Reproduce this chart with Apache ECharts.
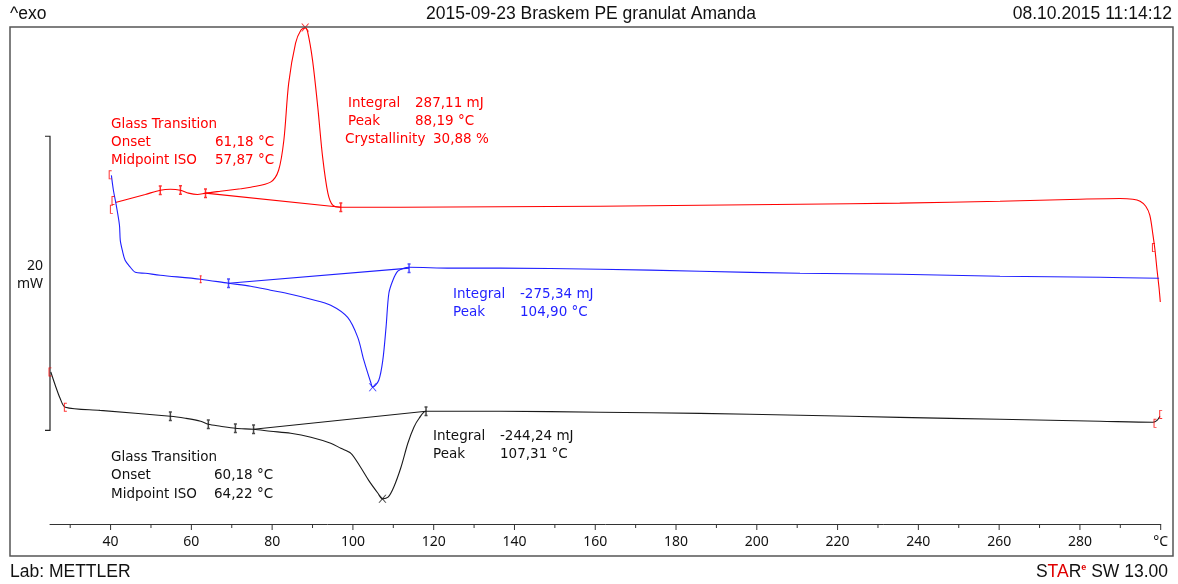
<!DOCTYPE html>
<html>
<head>
<meta charset="utf-8">
<script src="https://cdn.jsdelivr.net/npm/echarts@6/dist/echarts.min.js"></script>
<style>
  html, body { margin: 0; padding: 0; background: #fff; }
  #chart { width: 1178px; height: 584px; }
</style>
</head>
<body>
<div id="chart"></div>
<script>
// DSC run: heat flow (mW, stacked with offsets) against temperature (°C)
const tempMin = 25;
const tempMax = 300;
const heatFlowMax = 33.8;

// Red trace: cold crystallisation peak
const redCurve = [
  [41.2, 21.87], [44.9, 22.14], [48.6, 22.41], [52.3, 22.70], [54.8, 22.77],
  [57.3, 22.70], [59.3, 22.50], [61.5, 22.41], [63.5, 22.50], [67.2, 22.63],
  [72.2, 22.80], [74.7, 22.90], [79.6, 23.25], [81.6, 24.06], [82.9, 26.10],
  [84.1, 29.98], [85.8, 32.70], [87.1, 33.58], [88.19, 33.76], [88.8, 33.45],
  [90.0, 31.55], [91.3, 28.35], [92.5, 24.95], [93.8, 22.50], [95.0, 21.68],
  [97.0, 21.54], [111.9, 21.54], [136.5, 21.58], [161.2, 21.61], [185.9, 21.68],
  [210.7, 21.75], [235.4, 21.82], [260.2, 21.95], [280.0, 22.09], [289.9, 22.14],
  [293.1, 22.09], [294.9, 21.95], [296.3, 21.61], [297.3, 21.00], [298.1, 19.63],
  [298.6, 18.60], [299.1, 17.26], [299.6, 16.03], [299.9, 15.10]
];
const redBaseline = [[63.5, 22.50], [97.0, 21.54]];

// Blue trace: melting peak
const blueCurve = [
  [40.2, 23.71], [40.7, 22.70], [41.4, 21.68], [42.2, 20.32], [42.4, 19.29],
  [42.9, 18.62], [43.6, 17.94], [44.9, 17.46], [46.1, 17.12], [48.6, 17.05],
  [52.3, 16.92], [62.3, 16.65], [69.2, 16.37], [74.7, 16.17], [79.6, 15.90],
  [84.6, 15.63], [89.6, 15.29], [94.5, 14.88], [98.7, 14.05], [101.2, 12.69],
  [102.7, 11.14], [104.4, 9.64], [104.90, 9.30], [106.4, 9.78], [107.4, 11.14],
  [108.2, 13.37], [108.9, 15.69], [109.9, 16.58], [111.1, 17.19], [112.6, 17.40],
  [113.9, 17.46], [124.3, 17.40], [136.5, 17.40], [161.2, 17.33], [185.9, 17.19],
  [210.7, 17.05], [235.4, 16.99], [260.2, 16.85], [285.0, 16.78], [299.6, 16.71]
];
const blueBaseline = [[69.2, 16.37], [113.9, 17.40]];

// Black trace: second melting peak
const blackCurve = [
  [25.2, 10.34], [26.3, 9.44], [27.5, 8.55], [28.8, 7.94], [37.4, 7.73],
  [54.8, 7.33], [58.5, 7.19], [62.3, 6.99], [64.2, 6.78], [67.2, 6.65],
  [70.9, 6.51], [75.4, 6.44], [79.6, 6.31], [84.6, 6.17], [89.6, 5.90],
  [94.5, 5.49], [97.0, 5.15], [99.5, 4.81], [101.9, 3.86], [103.9, 2.97],
  [106.2, 2.09], [107.31, 1.71], [108.7, 1.82], [110.1, 2.50], [111.9, 3.86],
  [113.6, 5.49], [115.1, 6.58], [116.4, 7.19], [118.1, 7.67], [136.5, 7.67],
  [161.2, 7.60], [185.9, 7.52], [210.7, 7.40], [235.4, 7.25], [260.2, 7.12],
  [285.0, 6.99], [298.1, 6.92], [299.1, 7.05], [299.8, 7.33]
];
const blackBaseline = [[75.4, 6.44], [118.1, 7.67]];

// Evaluation results
const redPeak = 88.19;
const bluePeak = 104.90;
const blackPeak = 107.31;
const redResults = ['287,11 mJ', '88,19 °C', '30,88 %'];
const redGlass = ['61,18 °C', '57,87 °C'];
const blueResults = ['-275,34 mJ', '104,90 °C'];
const blackResults = ['-244,24 mJ', '107,31 °C'];
const blackGlass = ['60,18 °C', '64,22 °C'];

// Evaluation limit marks on each trace
const redLimits = [[52.3, 22.70], [57.3, 22.72], [63.5, 22.50], [97.0, 21.54]];
const blueLimits = [[62.3, 16.65], [69.2, 16.37], [113.9, 17.40]];
const blackLimits = [[54.8, 7.33], [64.2, 6.78], [70.9, 6.51], [75.4, 6.44], [118.1, 7.67]];
// Range brackets at trace ends
const bracketMarks = [[40.6, 22.0], [40.2, 21.4], [39.9, 23.75], [25.0, 10.34],
  [28.8, 7.94], [298.2, 18.8], [300.1, 14.9], [298.6, 6.85], [300.0, 7.45]];

// Temperature axis
const tickValues = [30, 40, 50, 60, 70, 80, 90, 100, 110, 120, 130, 140, 150, 160, 170,
  180, 190, 200, 210, 220, 230, 240, 250, 260, 270, 280, 290, 300];
const tickLabels = { 40: '40', 60: '60', 80: '80', 100: '100', 120: '120', 140: '140',
  160: '160', 180: '180', 200: '200', 220: '220', 240: '240', 260: '260', 280: '280', 300: '°C' };

// 20 mW scale bar
const scaleBar = [6.37, 26.37];

const AXIS_FONT = '14px "Noto Sans", "DejaVu Sans", sans-serif';
const NOTE_FONT = '13.5px "DejaVu Sans"';
const HEAD_FONT = '17.5px "Liberation Sans", Arial, sans-serif';

function lineSeries(data, color, smooth) {
  return {
    type: 'line', data: data, showSymbol: false, silent: true, animation: false,
    smooth: smooth ? 0.3 : false,
    lineStyle: { color: color, width: 1.1 }, z: 3
  };
}
function markSeries(data, color, symbol, size) {
  return {
    type: 'scatter', data: data, symbol: symbol, symbolSize: size, silent: true,
    animation: false, itemStyle: { color: color }, z: 4
  };
}

const X_PATH = 'path://M0,0L1.5,0L5,3.8L8.5,0L10,0L5.8,4.6L10,9.5L8.5,9.5L5,5.4L1.5,9.5L0,9.5L4.2,4.6Z';
const LIMIT_PATH = 'path://M1,0h2v1.5h-0.5v7h0.5v1.5h-2v-1.5h0.5v-7h-0.5z';
const BRACKET_PATH = 'path://M0,0h3v1h-2v8h2v1h-3z';

function note(text, x, y, color) {
  return { type: 'text', x: x, y: y, style: { text: text, fill: color, font: NOTE_FONT, verticalAlign: 'middle' }, z: 10 };
}

const chart = echarts.init(document.getElementById('chart'), null, { renderer: 'canvas' });

chart.setOption({
  animation: false,
  backgroundColor: '#fff',
  grid: { left: 50, right: 17.3, top: 27, bottom: 60 },
  xAxis: {
    type: 'value', min: tempMin, max: tempMax,
    axisLine: { show: true, lineStyle: { color: '#333', width: 1 } },
    axisTick: { show: false }, axisLabel: { show: false }, splitLine: { show: false }
  },
  yAxis: { type: 'value', min: 0, max: heatFlowMax, show: false },
  series: [
    // axis ticks and labels
    {
      type: 'custom', silent: true, data: tickValues.map(v => [v, 0]),
      renderItem: function (params, api) {
        const v = api.value(0);
        const p = api.coord([v, 0]);
        const major = v % 20 === 0;
        const children = [{
          type: 'line',
          shape: { x1: p[0], y1: p[1], x2: p[0], y2: p[1] + (major ? 6 : 4) },
          style: { stroke: '#333', lineWidth: 1 }
        }];
        if (tickLabels[v]) {
          children.push({
            type: 'text',
            style: { text: tickLabels[v], x: p[0], y: p[1] + 18, align: 'center', verticalAlign: 'middle', fill: '#111', font: AXIS_FONT }
          });
        }
        return { type: 'group', children: children };
      }
    },
    // scale bar
    {
      type: 'custom', silent: true, data: [[tempMin, scaleBar[0], scaleBar[1]]],
      renderItem: function (params, api) {
        const lo = api.coord([api.value(0), api.value(1)]);
        const hi = api.coord([api.value(0), api.value(2)]);
        const mid = (lo[1] + hi[1]) / 2;
        const span = Math.round(api.value(2) - api.value(1));
        return {
          type: 'group', children: [
            { type: 'polyline', shape: { points: [[lo[0] - 5, hi[1]], [lo[0], hi[1]], [lo[0], lo[1]], [lo[0] - 5, lo[1]]] },
              style: { stroke: '#222', lineWidth: 1.2, fill: null } },
            { type: 'text', style: { text: String(span), x: lo[0] - 7, y: mid - 17, align: 'right', verticalAlign: 'middle', fill: '#111', font: AXIS_FONT } },
            { type: 'text', style: { text: 'mW', x: lo[0] - 7, y: mid + 1, align: 'right', verticalAlign: 'middle', fill: '#111', font: AXIS_FONT } }
          ]
        };
      }
    },
    lineSeries(redCurve, '#ff0000', true),
    lineSeries(redBaseline, '#ff0000', false),
    lineSeries(blueCurve, '#1f1fff', true),
    lineSeries(blueBaseline, '#1f1fff', false),
    lineSeries(blackCurve, '#1a1a1a', true),
    lineSeries(blackBaseline, '#1a1a1a', false),
    markSeries([[redPeak, 33.76]], '#ff0000', X_PATH, 8),
    markSeries([[bluePeak, 9.30]], '#1f1fff', X_PATH, 8),
    markSeries([[blackPeak, 1.71]], '#1a1a1a', X_PATH, 8),
    markSeries(redLimits, '#ff0000', LIMIT_PATH, [3, 10]),
    markSeries(blueLimits.slice(1), '#1f1fff', LIMIT_PATH, [3, 10]),
    markSeries(blueLimits.slice(0, 1), '#ff0000', LIMIT_PATH, [2, 8]),
    markSeries(blackLimits, '#1a1a1a', LIMIT_PATH, [3, 10]),
    markSeries(bracketMarks, '#ff0000', BRACKET_PATH, [3, 9])
  ],
  graphic: [
    { type: 'rect', shape: { x: 10, y: 27, width: 1163, height: 529 }, style: { fill: null, stroke: '#555', lineWidth: 1.5 }, z: 20 },
    { type: 'text', x: 10, y: 14, style: { text: '^exo', font: HEAD_FONT, fill: '#111', verticalAlign: 'middle' } },
    { type: 'text', x: 591, y: 14, style: { text: '2015-09-23 Braskem PE granulat Amanda', font: HEAD_FONT, fill: '#111', align: 'center', verticalAlign: 'middle' } },
    { type: 'text', x: 1172, y: 14, style: { text: '08.10.2015 11:14:12', font: HEAD_FONT, fill: '#111', align: 'right', verticalAlign: 'middle' } },
    { type: 'text', x: 10, y: 572, style: { text: 'Lab: METTLER', font: HEAD_FONT, fill: '#111', verticalAlign: 'middle' } },
    { type: 'text', x: 1168, y: 572, style: {
        text: '{k|S}{r|TA}{k|R}{s|e}{k| SW 13.00}', align: 'right', verticalAlign: 'middle',
        rich: {
          k: { font: HEAD_FONT, fill: '#111' },
          r: { font: HEAD_FONT, fill: '#e00000' },
          s: { font: 'bold 9px "Liberation Sans", Arial, sans-serif', fill: '#e00000', verticalAlign: 'top', padding: [0, 0, 8, 0] }
        } } },

    // red evaluation
    note('Glass Transition', 111, 124, '#ff0000'),
    note('Onset', 111, 142, '#ff0000'),
    note(redGlass[0], 215, 142, '#ff0000'),
    note('Midpoint ISO', 111, 160, '#ff0000'),
    note(redGlass[1], 215, 160, '#ff0000'),
    note('Integral', 348, 103, '#ff0000'),
    note(redResults[0], 415, 103, '#ff0000'),
    note('Peak', 348, 121, '#ff0000'),
    note(redResults[1], 415, 121, '#ff0000'),
    note('Crystallinity', 345, 139, '#ff0000'),
    note(redResults[2], 433, 139, '#ff0000'),

    // blue evaluation
    note('Integral', 453, 294, '#1f1fff'),
    note(blueResults[0], 520, 294, '#1f1fff'),
    note('Peak', 453, 312, '#1f1fff'),
    note(blueResults[1], 520, 312, '#1f1fff'),

    // black evaluation
    note('Glass Transition', 111, 457, '#111'),
    note('Onset', 111, 475, '#111'),
    note(blackGlass[0], 214, 475, '#111'),
    note('Midpoint ISO', 111, 494, '#111'),
    note(blackGlass[1], 214, 494, '#111'),
    note('Integral', 433, 436, '#111'),
    note(blackResults[0], 500, 436, '#111'),
    note('Peak', 433, 454, '#111'),
    note(blackResults[1], 500, 454, '#111')
  ]
});
</script>
</body>
</html>
